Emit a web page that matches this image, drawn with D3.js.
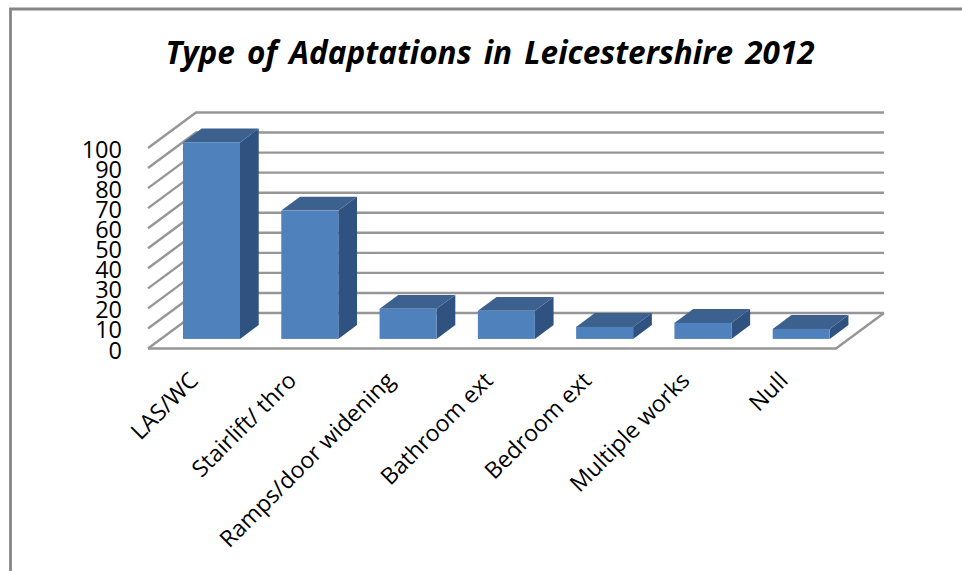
<!DOCTYPE html>
<html lang="en">
<head>
<meta charset="UTF-8" />
<title>Type of Adaptations in Leicestershire 2012</title>
<script src="https://d3js.org/d3.v7.min.js"></script>
<style>
  body { margin: 0; background: #fff; }
  svg { display: block; }
  text { fill: #000; font-family: 'Open Sans', sans-serif; }
</style>
</head>
<body>
<svg width="962" height="571"></svg>
<script>
const categories = ["LAS/WC", "Stairlift/ thro", "Ramps/door widening", "Bathroom ext", "Bedroom ext", "Multiple works", "Null"];
const values = [98, 64, 15, 14, 6, 8, 5];
const yTicks = [0, 10, 20, 30, 40, 50, 60, 70, 80, 90, 100];
const titleText = "Type of Adaptations in Leicestershire 2012";

const svg = d3.select("svg");

// chart frame, runs off the right and bottom of the picture
svg.append("path")
  .attr("d", "M962,9 H10.5 V571")
  .attr("fill", "none")
  .attr("stroke", "#868686")
  .attr("stroke-width", 2.8);

svg.append("text")
  .attr("x", 490)
  .attr("y", 63.5)
  .attr("text-anchor", "middle")
  .style("font-size", "31.5px")
  .style("font-weight", "bold")
  .style("font-style", "italic")
  .style("word-spacing", "4px")
  .text(titleText);

const floorLeft = 148, floorRight = 836;
const depthX = 48, depthY = 35.5;

const x = d3.scaleBand().domain(categories).range([floorLeft + 1.4, floorRight + 1.4]).paddingInner(0.42).paddingOuter(0.21);
const y = d3.scaleLinear().domain([0, 100]).range([348.5, 148]);

// gridlines on side wall and back wall
const grid = svg.append("g").attr("fill", "none").attr("stroke", "#969696").attr("stroke-width", 2.4);
grid.selectAll("path.wall")
  .data(yTicks)
  .enter()
  .append("path")
  .attr("class", "wall")
  .attr("d", d => `M${floorLeft},${y(d)} L${floorLeft + depthX},${y(d) - depthY} H${floorRight + depthX}`);

// floor: front edge and right edge
grid.append("path")
  .attr("d", `M${floorLeft},${y(0)} H${floorRight} L${floorRight + depthX},${y(0) - depthY}`);

// bars sit between these two fractions of the floor depth
const d0 = 0.27, d1 = 0.66;
const frontDx = depthX * d0, frontDy = depthY * d0;
const sideDx = depthX * (d1 - d0), sideDy = depthY * (d1 - d0);

const bars = svg.selectAll("g.bar")
  .data(categories.map((c, i) => ({ cat: c, val: values[i] })))
  .enter()
  .append("g")
  .attr("class", "bar");

const barX = d => x(d.cat) + frontDx;
const barTop = d => y(d.val) - frontDy;
const barBase = y(0) - frontDy;
const bw = x.bandwidth();

bars.append("path")
  .attr("fill", "#2f5280")
  .attr("d", d => `M${barX(d) + bw},${barTop(d)} l${sideDx},${-sideDy} V${barBase - sideDy} L${barX(d) + bw},${barBase} Z`);

bars.append("path")
  .attr("fill", "#3c618f")
  .attr("d", d => `M${barX(d)},${barTop(d)} l${sideDx},${-sideDy} h${bw} l${-sideDx},${sideDy} Z`);

bars.append("rect")
  .attr("fill", "#4f81bd")
  .attr("x", barX)
  .attr("y", barTop)
  .attr("width", bw)
  .attr("height", d => barBase - barTop(d));

// y axis labels
const yAxis = svg.append("g")
  .attr("transform", "translate(122,2)")
  .call(d3.axisLeft(y).tickValues(yTicks).tickSize(0).tickPadding(0));
yAxis.select(".domain").remove();
yAxis.selectAll("text").style("font-size", "23.5px").style("font-family", "'Open Sans', sans-serif").attr("fill", "#000");

// category labels at 45 degrees
svg.selectAll("text.cat")
  .data(categories)
  .enter()
  .append("text")
  .attr("class", "cat")
  .attr("text-anchor", "end")
  .attr("transform", d => `translate(${x(d) + x.bandwidth() / 2 + 1},382) rotate(-45)`)
  .style("font-size", "23px")
  .text(d => d);
</script>
</body>
</html>
